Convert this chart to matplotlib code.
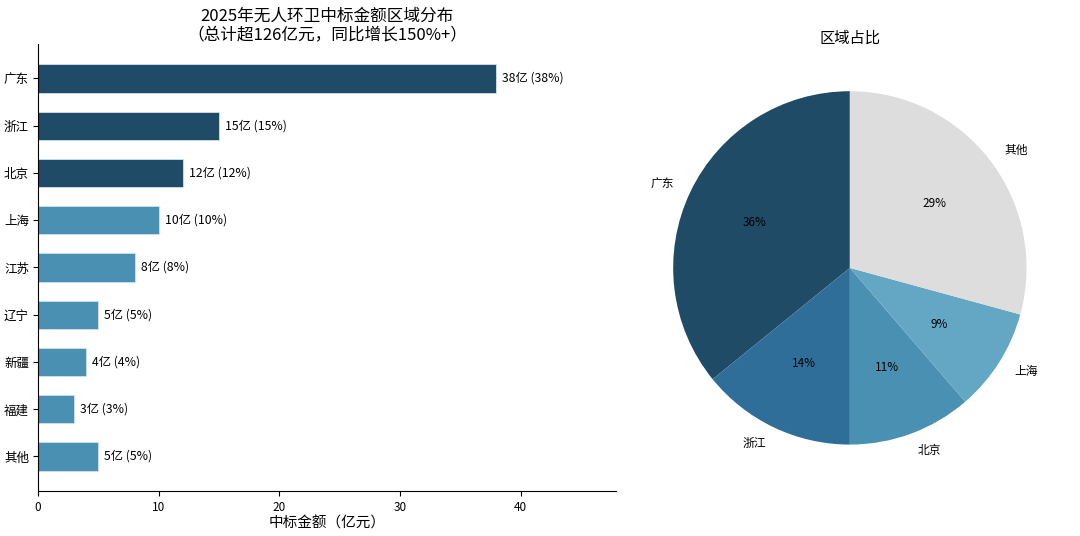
import matplotlib
matplotlib.use('Agg')
import matplotlib.pyplot as plt

plt.rcParams['font.family'] = ['Noto Sans CJK SC', 'DejaVu Sans']

regions = ['广东', '浙江', '北京', '上海', '江苏', '辽宁', '新疆', '福建', '其他']
amounts = [38, 15, 12, 10, 8, 5, 4, 3, 5]

pie_labels = ['广东', '浙江', '北京', '上海', '其他']
pie_values = [38, 15, 12, 10, 31]

dark = '#1f4b67'
light = '#4a90b2'
bar_colors = [dark] * 3 + [light] * 6
pie_colors = ['#1f4b67', '#2e6e98', '#4a90b2', '#63a7c4', '#dddddd']

fig = plt.figure(figsize=(10.8, 5.36), dpi=100)

ax1 = fig.add_axes([0.0352, 0.084, 0.535, 0.834])
total = sum(amounts)
ax1.barh(regions, amounts, height=0.6, color=bar_colors, edgecolor='#cfe3ee', linewidth=0.6)
ax1.invert_yaxis()
for i, v in enumerate(amounts):
    ax1.text(v + 0.5, i, f'{v}亿 ({v / total * 100:.0f}%)', va='center', fontsize=8.8)
ax1.set_xlim(0, 47.9)
ax1.set_xlabel('中标金额（亿元）', fontsize=10.5, labelpad=2)
ax1.set_title('2025年无人环卫中标金额区域分布\n（总计超126亿元，同比增长150%+）', fontsize=12, pad=2,
              linespacing=1.15)
ax1.spines['top'].set_visible(False)
ax1.spines['right'].set_visible(False)
ax1.tick_params(axis='y', labelsize=9, pad=3)
ax1.tick_params(axis='x', labelsize=8.5)

ax2 = fig.add_axes([0.5824, 0.0877, 0.409, 0.825])
ax2.pie(pie_values, labels=pie_labels, colors=pie_colors, autopct='%1.0f%%',
        startangle=90, textprops={'fontsize': 8.5})
ax2.set_title('区域占比', fontsize=11, pad=0)

fig.savefig('out.png', dpi=100)
